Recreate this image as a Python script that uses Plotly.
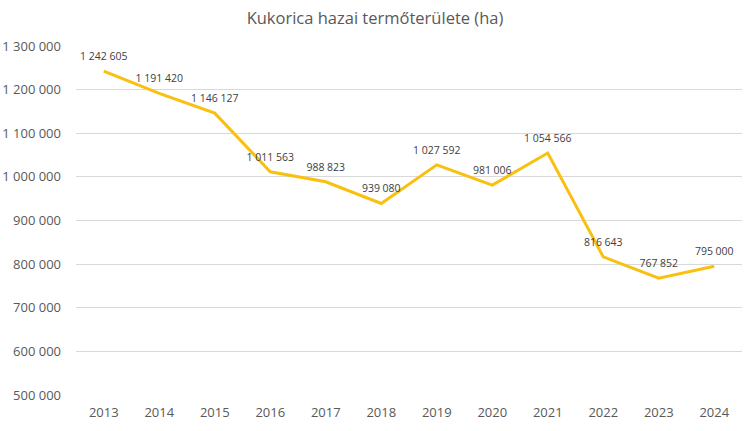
import plotly.graph_objects as go

years = ["2013", "2014", "2015", "2016", "2017", "2018", "2019", "2020", "2021", "2022", "2023", "2024"]
area_ha = [1242605, 1191420, 1146127, 1011563, 988823, 939080, 1027592, 981006, 1054566, 816643, 767852, 795000]
title_text = "Kukorica hazai termőterülete (ha)"

font_family = "Open Sans, Noto Sans, Liberation Sans, sans-serif"
text_color = "#595959"

fig = go.Figure()
fig.add_trace(go.Scatter(
    x=years, y=area_ha,
    mode="lines+markers+text",
    line=dict(color="#F9C00F", width=3),
    marker=dict(size=12, color="rgba(0,0,0,0)", line=dict(width=0)),
    texttemplate="%{y:,d}",
    textposition="top center",
    textfont=dict(family=font_family, size=10.5, color="#404040"),
    cliponaxis=False,
    showlegend=False,
))

fig.update_layout(
    width=750, height=431,
    margin=dict(l=76, r=8, t=46, b=36, autoexpand=False),
    paper_bgcolor="white", plot_bgcolor="white",
    separators=". ",
    title=dict(text=title_text, x=0.5, xanchor="center", y=0.957, yanchor="middle",
               font=dict(family=font_family, size=16.5, color=text_color)),
    xaxis=dict(type="category", range=[-0.5, 11.5], showgrid=False, showline=False, ticks="",
               ticklabelstandoff=8, automargin=False,
               tickfont=dict(family=font_family, size=13, color=text_color)),
    yaxis=dict(range=[500000, 1300000], dtick=100000, tickformat=",d",
               showgrid=True, gridcolor="#D9D9D9", gridwidth=1, zeroline=False,
               showline=False, ticks="", ticklabelstandoff=14, automargin=False,
               tickfont=dict(family=font_family, size=13, color=text_color)),
)

fig.write_html("out.html")
